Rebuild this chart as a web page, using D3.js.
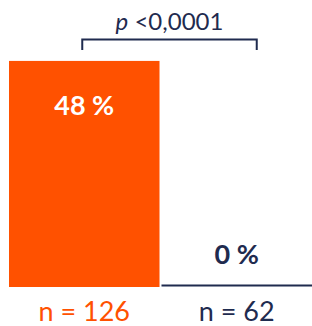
<!DOCTYPE html>
<html>
<head>
<meta charset="utf-8">
<script src="https://cdn.jsdelivr.net/npm/d3@7"></script>
<style>
  body { margin: 0; background: #fff; }
  text { font-family: Lato, "Open Sans", sans-serif; }
</style>
</head>
<body>
<script>
// chart data
var groups = ["A", "B"];
var percents = [48, 0];
var valueLabels = ["48 %", "0 %"];
var nLabels = ["n = 126", "n = 62"];
var pLabel = "<0,0001";

var w = 312, h = 326;
var orange = "#FF5100", navy = "#1F2B4F";

var svg = d3.select("body").append("svg")
  .attr("width", w)
  .attr("height", h);

//band scale for the two groups
var x = d3.scaleBand()
  .domain(groups)
  .range([9, 312])
  .paddingInner(0.013);

//percent scale
var y = d3.scaleLinear()
  .domain([0, 50])
  .range([287, 51.5]);

var data = groups.map(function(g, i) {
  return {group: g, value: percents[i], label: valueLabels[i], n: nLabels[i]};
});

//bars
svg.selectAll(".bar")
  .data(data)
  .enter()
  .append("rect")
  .attr("class", "bar")
  .attr("x", function(d) { return x(d.group); })
  .attr("width", x.bandwidth())
  .attr("y", function(d) { return y(d.value); })
  .attr("height", function(d) { return y(0) - y(d.value); })
  .style("fill", orange);

//baseline under the zero group
svg.append("line")
  .attr("x1", x("B"))
  .attr("x2", x("B") + x.bandwidth())
  .attr("y1", y(0) - 1.5)
  .attr("y2", y(0) - 1.5)
  .style("stroke", navy)
  .style("stroke-width", 2);

//value labels
svg.selectAll(".val")
  .data(data)
  .enter()
  .append("text")
  .attr("class", "val")
  .attr("text-anchor", "middle")
  .attr("x", function(d) { return x(d.group) + x.bandwidth() / 2; })
  .attr("y", function(d) { return d.value > 0 ? y(d.value) + 54 : y(0) - 23; })
  .style("font-size", "27px")
  .style("font-weight", "bold")
  .style("fill", function(d) { return d.value > 0 ? "#fff" : navy; })
  .text(function(d) { return d.label; });

//n labels
svg.selectAll(".n")
  .data(data)
  .enter()
  .append("text")
  .attr("class", "n")
  .attr("text-anchor", "middle")
  .attr("x", function(d) { return x(d.group) + x.bandwidth() / 2; })
  .attr("y", 320.5)
  .style("font-size", "27px")
  .style("fill", function(d) { return d.value > 0 ? orange : navy; })
  .text(function(d) { return d.n; });

//significance bracket
var bx1 = x("A") + x.bandwidth() / 2 - 2,
    bx2 = x("B") + x.bandwidth() / 2 + 20;
svg.append("path")
  .attr("d", "M" + bx1 + ",50V39.5H" + bx2 + "V50")
  .style("fill", "none")
  .style("stroke", navy)
  .style("stroke-width", 2);

var pt = svg.append("text")
  .attr("text-anchor", "middle")
  .attr("x", (bx1 + bx2) / 2)
  .attr("y", 30)
  .style("font-size", "24px")
  .style("fill", navy);
pt.append("tspan").style("font-style", "italic").text("p");
pt.append("tspan").text(" " + pLabel);
</script>
</body>
</html>
